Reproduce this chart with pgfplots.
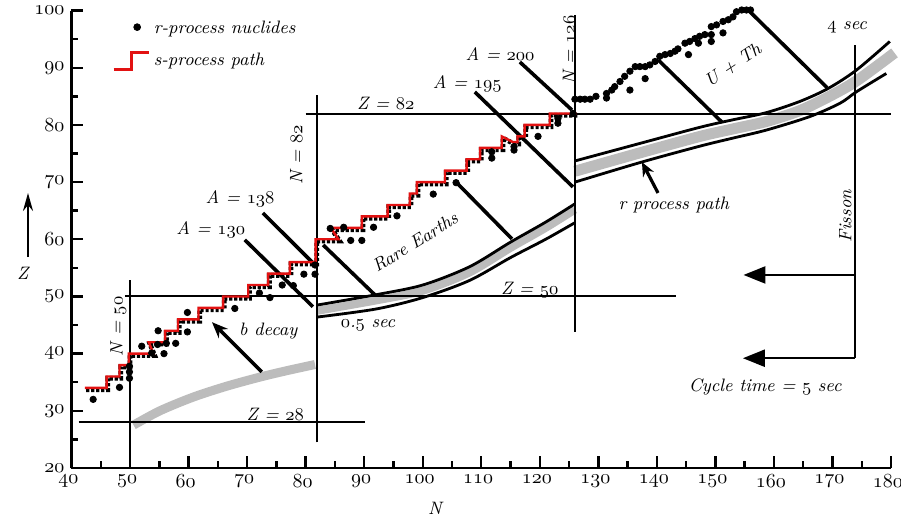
\documentclass[border=0pt]{standalone}
\usepackage{pgfplots}
\pgfplotsset{compat=1.18}
\usetikzlibrary{arrows.meta,calc}
\newcommand\os[1]{\legacyoldstylenums{#1}}
\definecolor{bandgray}{RGB}{188,188,188}
\definecolor{spred}{RGB}{226,18,18}
\begin{document}
\begin{tikzpicture}[font=\itshape\fontsize{9}{10.5}\selectfont]
\begin{axis}[
  scale only axis, width=409.75pt, height=228.7pt,
  xmin=40, xmax=180, ymin=20, ymax=100,
  axis lines=left,
  axis line style={-, line width=1.35pt},
  tick align=inside,
  xtick={40,50,...,180}, ytick={20,30,...,100},
  minor xtick={45,55,...,175}, minor ytick={25,35,...,95},
  xticklabels={\os{40},\os{50},\os{60},\os{70},\os{80},\os{90},\os{100},\os{110},\os{120},\os{130},\os{140},\os{150},\os{160},\os{170},\os{180}\hspace{7pt}},
  yticklabels={\os{20},\os{30},\os{40},\os{50},\os{60},\os{70},\os{80},\os{90},\os{100}},
  major tick length=6pt, minor tick length=3.5pt,
  every tick/.style={black, line width=1.2pt},
  tick label style={font=\itshape\fontsize{10}{11}\selectfont},
  xticklabel style={xshift=-1.5pt},
  clip=false,
  legend style={draw=none, fill=none, at={(0.0494,0.986)}, anchor=north west,
    inner sep=0pt, row sep=4pt, font=\itshape\fontsize{9}{10.5}\selectfont,
    /tikz/every even column/.append style={column sep=4pt}},
  legend cell align=left,
]
\addlegendimage{legend image code/.code={\fill[black] (11.8pt,1pt) circle (1.7pt);}}
\addlegendentry{r-process nuclides}
\addlegendimage{legend image code/.code={\draw[spred,line width=1.2pt] (0pt,-4.5pt)--(9pt,-4.5pt)--(9pt,4pt)--(17.5pt,4pt);}}
\addlegendentry{s-process path}

% ---- r-process path bands ----
\addplot[bandgray, line width=4.5pt, smooth, forget plot] coordinates {
 (50.6,27.5) (55.1,30.0) (60.8,32.4) (66.5,34.3) (72.2,35.9) (76.7,37.0) (81.6,38.1)};
\addplot[bandgray, line width=4pt, smooth, forget plot] coordinates {
 (82,47.5) (92,49.3) (100,51.0) (108,54.2) (115,58.5) (121,62.0) (126,65.2)};
\addplot[black, line width=1.4pt, smooth, forget plot] coordinates {
 (82,48.5) (92,50.3) (100,52.0) (108,55.2) (115,59.5) (121,63.0) (126,66.2)};
\addplot[black, line width=1.4pt, smooth, forget plot] coordinates {
 (82,46.4) (92,47.8) (100,49.8) (108,52.8) (115,56.8) (121,60.0) (126,62.9)};
\addplot[bandgray, line width=5.5pt, smooth, forget plot] coordinates {
 (126,71.9) (137.4,75.2) (147.4,78.0) (153,79.3) (158.7,80.6) (164.4,82.5) (169.3,84.9) (174.1,87.7) (180.6,92.6)};
\addplot[black, line width=1.4pt, smooth, forget plot] coordinates {
 (126,73.7) (137.4,76.85) (147.4,79.6) (153,80.9) (158.7,82.15) (164.4,84.1) (169.3,86.4) (174.1,89.6) (179.8,94.6)};
\addplot[black, line width=1.4pt, smooth, forget plot] coordinates {
 (126,70.0) (137.4,73.5) (147.4,76.3) (153,77.7) (158.7,79.1) (166.1,81.45) (171.3,83.8) (174.1,85.8) (179.2,89.0)};

% ---- magic number lines ----
\addplot[black, line width=1pt, forget plot] coordinates {(50,20.6) (50,52.9)};
\addplot[black, line width=1pt, forget plot] coordinates {(82,24.5) (82,85.2)};
\addplot[black, line width=1pt, forget plot] coordinates {(126,43.8) (126,99.2)};
\addplot[black, line width=1pt, forget plot] coordinates {(41.2,28) (90.1,28)};
\addplot[black, line width=1pt, forget plot] coordinates {(49.1,50) (143.3,50)};
\addplot[black, line width=1pt, forget plot] coordinates {(80.0,82) (180,82)};
\addplot[black, line width=1.2pt, forget plot] coordinates {(173.8,39.2) (173.8,94.0)};

% ---- constant-A and other diagonal lines ----
\addplot[black, line width=1.8pt, forget plot] coordinates {(72.7,64.6) (81.25,55.86)};
\addplot[black, line width=1.8pt, forget plot] coordinates {(69.6,59.9) (81.25,48.2)};
\addplot[black, line width=1.8pt, forget plot] coordinates {(83.0,59.0) (91.85,50.26)};
\addplot[black, line width=1.8pt, forget plot] coordinates {(105.85,69.85) (115.25,60.06)};
\addplot[black, line width=1.8pt, forget plot] coordinates {(108.9,85.77) (125.67,69.15)};
\addplot[black, line width=1.8pt, forget plot] coordinates {(116.6,91.0) (125.5,82.6)};
\addplot[black, line width=1.8pt, forget plot] coordinates {(140.2,91.4) (151.1,80.5)};
\addplot[black, line width=1.8pt, forget plot] coordinates {(155.6,100.1) (169.1,86.5)};

% ---- arrows ----
\addplot[black, line width=1.8pt, -{Stealth[length=8pt,width=6.5pt]}, forget plot] coordinates {(72.5,36.8) (64.0,45.5)};
\addplot[black, line width=1.6pt, -{Stealth[length=7pt,width=6pt]}, forget plot] coordinates {(140.2,68.1) (137.45,73.5)};
\addplot[black, line width=1.2pt, -{Triangle[length=11pt,width=8.5pt]}, forget plot] coordinates {(173.8,53.76) (154.8,53.76)};
\addplot[black, line width=1.2pt, -{Triangle[length=11pt,width=8.5pt]}, forget plot] coordinates {(173.8,39.2) (154.7,39.2)};
\addplot[black, line width=1.2pt, -{Stealth[length=9pt,width=5pt]}, forget plot] coordinates {(32.57,56.9) (32.57,68.1)};

% ---- s-process path ----
\addplot[black, line width=2.4pt, dash pattern=on 1.6pt off 0.9pt, xshift=0.6pt, yshift=-0.9pt, forget plot] coordinates {
 (42.3,34) (46.0,34) (46.0,36) (48.2,36) (48.2,38) (49.8,38) (49.8,40) (54.0,40) (53.2,42) (56.0,42) (56.0,44)
 (58.2,44) (58.2,46) (61.7,46) (61.7,48) (65.9,48) (65.9,50) (70.2,50) (70.2,52) (73.6,52) (73.6,54)
 (77.3,54) (77.3,56) (81.7,56) (81.7,60) (85.6,60) (84.3,62) (89.6,62) (89.6,64) (94.0,64) (94.0,66)
 (97.8,66) (97.8,68) (99.0,68) (99.0,70) (103.8,70) (103.8,72) (107.5,72) (107.5,74) (109.8,74) (109.8,76)
 (113.5,76) (113.5,78) (115.4,77) (116.2,77) (116.2,78) (117.4,78) (117.4,80) (121.7,80) (121.7,82) (126.3,82)};
\addplot[spred, line width=1.2pt, forget plot] coordinates {
 (42.3,34) (46.0,34) (46.0,36) (48.2,36) (48.2,38) (49.8,38) (49.8,40) (54.0,40) (53.2,42) (56.0,42) (56.0,44)
 (58.2,44) (58.2,46) (61.7,46) (61.7,48) (65.9,48) (65.9,50) (70.2,50) (70.2,52) (73.6,52) (73.6,54)
 (77.3,54) (77.3,56) (81.7,56) (81.7,60) (85.6,60) (84.3,62) (89.6,62) (89.6,64) (94.0,64) (94.0,66)
 (97.8,66) (97.8,68) (99.0,68) (99.0,70) (103.8,70) (103.8,72) (107.5,72) (107.5,74) (109.8,74) (109.8,76)
 (113.5,76) (113.5,78) (115.4,77) (116.2,77) (116.2,78) (117.4,78) (117.4,80) (121.7,80) (121.7,82) (126.3,82)};

% ---- r-process nuclides ----
\addplot[only marks, mark=*, mark size=1.6pt, black, forget plot] coordinates {
 (43.7,32.0) (48.2,34.1) (49.9,35.7) (49.9,36.8) (49.9,37.8) (52.0,41.3) (53.7,40.1) (54.8,44.0)
 (54.7,41.6) (55.8,40.0) (56.2,41.8) (57.8,41.8) (59.8,47.2) (59.8,43.8) (67.9,47.9) (72.1,50.6)
 (73.9,49.8) (76.0,52.0) (77.9,51.9) (79.7,53.9) (81.6,53.9) (81.6,55.5) (84.2,61.9) (86.5,62.1)
 (87.7,59.8) (89.6,59.8) (91.6,62.1) (95.6,64.1) (101.8,67.9) (105.7,69.9) (111.8,74.2) (111.8,75.3)
 (115.6,76.2) (115.6,75.6) (119.7,78.0) (123.1,81.1) (123.1,80.3) (125.7,82.0)
 (126.0,84.5) (126.9,84.5) (127.7,84.5) (128.6,84.5) (129.6,85.0) (131.4,84.7) (131.4,85.5)
 (132.3,86.1) (132.8,86.7) (133.7,87.6) (134.5,88.5) (135.4,89.4) (135.4,86.1)
 (136.3,90.2) (137.1,90.2) (138.0,90.2) (138.8,90.5) (139.7,91.1) (138.0,88.1)
 (140.5,92.0) (141.4,92.3) (142.3,92.5) (143.1,92.9) (143.6,93.3) (145.4,92.3)
 (144.8,94.3) (145.6,94.6) (146.5,95.1) (147.3,95.5) (148.2,95.8) (147.1,94.3) (149.3,94.6) (149.3,95.8)
 (149.3,97.2) (150.2,97.5) (151.3,98.1) (152.2,98.4) (153.0,98.9) (151.3,96.1)
 (153.6,99.8) (154.5,100.1) (155.3,100.1) (156.0,100.1)};

% ---- labels ----
\node at (axis cs:63.8,61.6) {A = \os{130}};
\node at (axis cs:68.8,67.05) {A = \os{138}};
\node at (axis cs:107.6,87.2) {A = \os{195}};
\node at (axis cs:113.2,92.4) {A = \os{200}};
\node at (axis cs:93.7,83.7) {Z = \os{82}};
\node at (axis cs:118.3,51.1) {Z = \os{50}};
\node at (axis cs:74.8,29.4) {Z = \os{28}};
\node[rotate=90] at (axis cs:48.0,44.75) {N = \os{50}};
\node[rotate=90] at (axis cs:78.4,74.75) {N = \os{82}};
\node[rotate=90] at (axis cs:125.0,93.1) {N = \os{126}};
\node[rotate=90] at (axis cs:172.2,64.0) {Fisson};
\node at (axis cs:90.65,45.0) {\os{0}.\os{5} sec};
\node at (axis cs:73.6,44.0) {b decay};
\node at (axis cs:142.9,66.0) {r process path};
\node[rotate=34, inner sep=1pt] at (axis cs:153.0,90.5) {U + Th};
\node[rotate=32, inner sep=1pt] at (axis cs:98.7,59.5) {Rare Earths};
\node at (axis cs:172.5,97.1) {\os{4} sec};
\node at (axis cs:158.5,34.2) {Cycle time = \os{5} sec};
\node at (axis cs:31.7,54.1) {Z};
\node[anchor=north, inner sep=0pt, yshift=-17pt] at (axis cs:102.1,20) {N};
\end{axis}
\pgfresetboundingbox
\path ($(current axis.south west)+(-35.75pt,-24pt)$) rectangle ($(current axis.north east)+(5pt,5.3pt)$);
\end{tikzpicture}
\end{document}
